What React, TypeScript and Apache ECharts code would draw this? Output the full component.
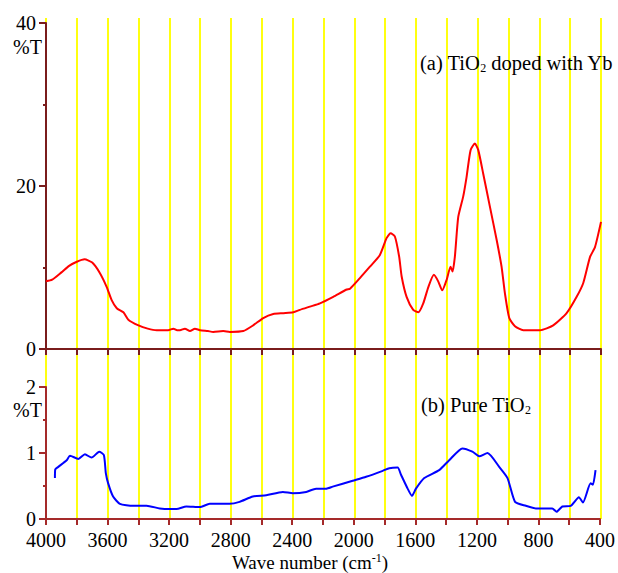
import React, { useEffect, useRef } from "react";
import * as echarts from "echarts";

// Spectrum (a): TiO2 doped with Yb — wavenumber (cm-1) and %T
const wnA = [4000, 3960, 3900, 3850, 3800, 3750, 3700, 3650, 3606, 3574, 3541, 3498, 3466, 3400, 3340, 3282, 3207, 3174, 3150, 3131, 3099, 3066, 3034, 3001, 2950, 2915, 2850, 2807, 2720, 2656, 2591, 2526, 2461, 2396, 2353, 2288, 2223, 2137, 2050, 2028, 1964, 1899, 1835, 1791, 1765, 1737, 1709, 1693, 1661, 1618, 1585, 1553, 1520, 1484, 1456, 1430, 1401, 1376, 1363, 1348, 1326, 1294, 1272, 1246, 1218, 1196, 1164, 1121, 1077, 1045, 1023, 995, 958, 904, 796, 710, 623, 558, 515, 471, 439, 400];
const tA = [8.3, 8.5, 9.4, 10.2, 10.7, 11.0, 10.6, 9.3, 7.6, 6.0, 5.0, 4.5, 3.6, 2.9, 2.5, 2.3, 2.3, 2.5, 2.3, 2.3, 2.5, 2.2, 2.5, 2.3, 2.2, 2.1, 2.2, 2.1, 2.2, 2.9, 3.8, 4.3, 4.4, 4.5, 4.8, 5.2, 5.6, 6.4, 7.3, 7.4, 8.7, 10.1, 11.5, 13.6, 14.2, 13.8, 11.3, 8.9, 6.4, 4.8, 4.5, 5.6, 7.6, 9.1, 8.3, 7.2, 8.5, 10.1, 9.5, 11.3, 16.2, 18.7, 21.1, 24.4, 25.2, 24.4, 21.5, 17.5, 13.4, 10.1, 6.8, 3.8, 2.8, 2.3, 2.3, 2.9, 4.4, 6.4, 8.1, 11.3, 12.5, 15.6];

// Spectrum (b): Pure TiO2
const wnB = [3942, 3940, 3920, 3866, 3844, 3790, 3747, 3704, 3654, 3624, 3611, 3596, 3564, 3520, 3434, 3347, 3261, 3196, 3152, 3088, 3001, 2936, 2807, 2742, 2656, 2569, 2461, 2396, 2309, 2245, 2180, 2137, 2007, 1920, 1812, 1769, 1715, 1693, 1650, 1622, 1596, 1542, 1445, 1380, 1294, 1229, 1185, 1131, 1055, 1001, 952, 882, 817, 710, 682, 645, 590, 537, 511, 461, 446, 429];
const tB = [0.62, 0.75, 0.79, 0.89, 0.96, 0.91, 0.98, 0.93, 1.02, 0.97, 0.69, 0.54, 0.34, 0.23, 0.2, 0.2, 0.16, 0.15, 0.15, 0.19, 0.18, 0.23, 0.23, 0.26, 0.34, 0.36, 0.41, 0.39, 0.41, 0.46, 0.46, 0.49, 0.58, 0.64, 0.73, 0.77, 0.78, 0.67, 0.46, 0.35, 0.46, 0.62, 0.74, 0.89, 1.07, 1.02, 0.95, 1.0, 0.79, 0.62, 0.26, 0.2, 0.16, 0.16, 0.11, 0.19, 0.2, 0.33, 0.25, 0.54, 0.52, 0.74];

const xMin = 400;
const xMax = 4000;
const xStep = 200;
const xLabelStep = 400;
const yTopMax = 40;
const yTopStep = 20;
const yBotMax = 2;
const yBotStep = 1;

const FONT = '"Liberation Serif", "Times New Roman", serif';

export default function App() {
  const ref = useRef<HTMLDivElement>(null);

  useEffect(() => {
    if (!ref.current) return;
    const chart = echarts.init(ref.current, undefined, { renderer: "svg" });
    const topAxis = "#7a1c1c";
    const botAxis = "#a52a2a";
    const yellow = "#ffff10";

    const baseX = (grid: number, color: string, showLabels: boolean) => ({
      type: "value",
      gridIndex: grid,
      min: xMin,
      max: xMax,
      interval: xStep,
      inverse: true,
      axisLine: { show: true, onZero: false, lineStyle: { color, width: 2 } },
      axisTick: { show: true, length: 6, lineStyle: { color, width: 2 } },
      splitLine: { show: false },
      axisLabel: {
        show: showLabels,
        margin: 11,
        fontSize: 20,
        fontFamily: FONT,
        color: "#000",
        formatter: (v: number) => (v % xLabelStep === 0 ? String(v) : ""),
      },
    });

    const baseY = (grid: number, color: string, max: number, step: number) => ({
      type: "value",
      gridIndex: grid,
      min: 0,
      max,
      interval: step,
      axisLine: { show: true, onZero: false, lineStyle: { color, width: 2 } },
      axisTick: { show: true, length: 7, lineStyle: { color, width: 2 } },
      minorTick: { show: true, splitNumber: 2, length: 3, lineStyle: { color, width: 2 } },
      splitLine: { show: false },
      minorSplitLine: { show: false },
      axisLabel: { margin: 10, fontSize: 20, fontFamily: FONT, color: "#000" },
    });

    chart.setOption({
      animation: false,
      backgroundColor: "#fff",
      grid: [
        { left: 46, top: 23, width: 555, height: 326 },
        { left: 46, top: 387, width: 555, height: 132 },
        { left: 46, top: 18, width: 555, height: 501 },
      ],
      xAxis: [
        baseX(0, topAxis, false),
        baseX(1, botAxis, true),
        {
          type: "value",
          gridIndex: 2,
          min: xMin,
          max: xMax,
          interval: xStep,
          inverse: true,
          z: -1,
          axisLine: { show: false },
          axisTick: { show: false },
          axisLabel: { show: false },
          splitLine: { show: true, lineStyle: { color: yellow, width: 2 } },
        },
      ],
      yAxis: [
        baseY(0, topAxis, yTopMax, yTopStep),
        baseY(1, botAxis, yBotMax, yBotStep),
        { type: "value", gridIndex: 2, min: 0, max: 1, show: false, splitLine: { show: false } },
      ],
      series: [
        {
          type: "line",
          xAxisIndex: 0,
          yAxisIndex: 0,
          data: wnA.map((w, i) => [w, tA[i]]),
          showSymbol: false,
          smooth: 0.2,
          lineStyle: { color: "#ff0000", width: 2 },
          z: 3,
        },
        {
          type: "line",
          xAxisIndex: 1,
          yAxisIndex: 1,
          data: wnB.map((w, i) => [w, tB[i]]),
          showSymbol: false,
          smooth: 0.2,
          lineStyle: { color: "#0000ff", width: 2 },
          z: 3,
        },
      ],
      graphic: [
        {
          type: "text",
          x: 42,
          y: 47,
          style: { text: "%T", font: `20px ${FONT}`, fill: "#000", align: "right", verticalAlign: "middle" },
        },
        {
          type: "text",
          x: 42,
          y: 410,
          style: { text: "%T", font: `20px ${FONT}`, fill: "#000", align: "right", verticalAlign: "middle" },
        },
        {
          type: "text",
          x: 420,
          y: 63,
          z: 10,
          style: {
            text: "(a) TiO{s|2} doped with Yb",
            font: `20.5px ${FONT}`,
            fill: "#000",
            align: "left",
            verticalAlign: "middle",
            rich: {
              s: { fontSize: 12, fontFamily: FONT, verticalAlign: "bottom", padding: [10, 0, 0, 0] },
            },
          },
        },
        {
          type: "text",
          x: 421,
          y: 405,
          z: 10,
          style: {
            text: "(b) Pure TiO{s|2}",
            font: `20.5px ${FONT}`,
            fill: "#000",
            align: "left",
            verticalAlign: "middle",
            rich: {
              s: { fontSize: 12, fontFamily: FONT, verticalAlign: "bottom", padding: [10, 0, 0, 0] },
            },
          },
        },
        {
          type: "text",
          x: 310,
          y: 562,
          style: {
            text: "Wave number (cm{p|-1})",
            font: `19px ${FONT}`,
            fill: "#000",
            align: "center",
            verticalAlign: "middle",
            rich: {
              p: { fontSize: 12, fontFamily: FONT, verticalAlign: "top", padding: [0, 0, 8, 0] },
            },
          },
        },
      ],
    });

    return () => chart.dispose();
  }, []);

  return <div ref={ref} style={{ width: 618, height: 573, position: "absolute", left: 0, top: 0 }} />;
}
